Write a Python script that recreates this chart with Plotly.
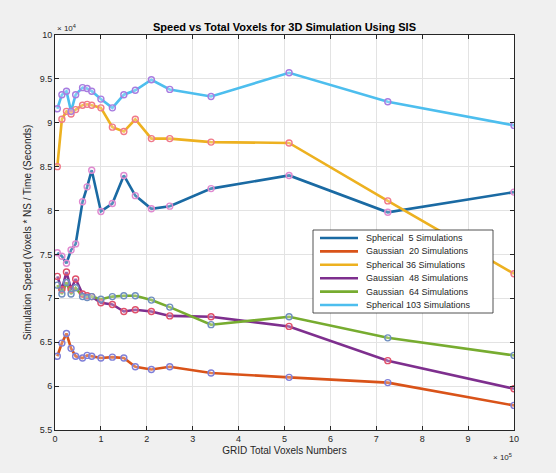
import plotly.graph_objects as go

# Grid sizes (x 10^5 voxels) shared by all runs
voxels = [0.05, 0.15, 0.25, 0.35, 0.45, 0.6, 0.7, 0.8, 1.0, 1.25, 1.5, 1.75, 2.1, 2.5, 3.4, 5.1, 7.25, 10]

# Simulation speed (x 10^4 voxels * NS / s)
spherical_5 = [7.52, 7.48, 7.40, 7.55, 7.62, 8.10, 8.27, 8.46, 7.99, 8.08, 8.40, 8.17, 8.02, 8.05, 8.25, 8.40, 7.98, 8.21]
gaussian_20 = [6.34, 6.49, 6.60, 6.43, 6.34, 6.32, 6.35, 6.34, 6.32, 6.33, 6.32, 6.22, 6.19, 6.22, 6.15, 6.10, 6.04, 5.78]
spherical_36 = [8.50, 9.04, 9.13, 9.10, 9.15, 9.20, 9.21, 9.20, 9.17, 8.95, 8.90, 9.04, 8.82, 8.82, 8.78, 8.77, 8.11, 7.28]
gaussian_48 = [7.25, 7.10, 7.30, 7.10, 7.22, 7.05, 7.03, 7.02, 6.95, 6.93, 6.85, 6.87, 6.85, 6.80, 6.79, 6.68, 6.29, 5.97]
gaussian_64 = [7.15, 7.05, 7.18, 7.05, 7.12, 7.02, 7.01, 7.02, 6.99, 7.02, 7.03, 7.03, 6.98, 6.90, 6.70, 6.79, 6.55, 6.35]
spherical_103 = [9.16, 9.32, 9.36, 9.13, 9.32, 9.40, 9.39, 9.36, 9.27, 9.17, 9.32, 9.37, 9.49, 9.38, 9.30, 9.57, 9.24, 8.97]

names = ["Spherical  5 Simulations", "Gaussian  20 Simulations", "Spherical 36 Simulations",
         "Gaussian  48 Simulations", "Gaussian  64 Simulations", "Spherical 103 Simulations"]
series = [spherical_5, gaussian_20, spherical_36, gaussian_48, gaussian_64, spherical_103]
line_colors = ["#1a6aa3", "#d95319", "#edb120", "#7e2f8e", "#77ac30", "#4dbeee"]
marker_colors = ["#e08ad0", "#7f7fd8", "#f07a8a", "#e0506a", "#6f8fc0", "#a87ce0"]

x_ticks = list(range(0, 11))
y_ticks = [5.5, 6, 6.5, 7, 7.5, 8, 8.5, 9, 9.5, 10]
y_tick_text = ["5.5", "6", "6.5", "7", "7.5", "8", "8.5", "9", "9.5", "10"]

FONT = "Liberation Sans, Arial"
W, H = 556, 473
ML, MR, MT, MB = 55, 42, 35, 43
PW, PH = W - ML - MR, H - MT - MB


def px_to_paper(px, py):
    return (px - ML) / PW, (H - MB - py) / PH


fig = go.Figure()
for name, vals, lc in zip(names, series, line_colors):
    fig.add_trace(go.Scatter(x=voxels, y=vals, mode="lines", name=name, showlegend=False,
                             line=dict(color=lc, width=2.6)))
for vals, mc in zip(series, marker_colors):
    fig.add_trace(go.Scatter(x=voxels, y=vals, mode="markers", showlegend=False,
                             hoverinfo="skip",
                             marker=dict(symbol="circle", size=6,
                                         color="rgba(255,255,255,0.25)",
                                         line=dict(color=mc, width=1.4))))

axis_common = dict(showline=True, linecolor="#262626", linewidth=1, mirror="ticks",
                   ticks="inside", ticklen=4, tickcolor="#262626",
                   showgrid=True, gridcolor="#e3e3e3", gridwidth=1, zeroline=False,
                   tickfont=dict(family=FONT, size=9, color="#262626"))

fig.update_layout(
    width=W, height=H,
    paper_bgcolor="#f0f0f0", plot_bgcolor="#ffffff",
    margin=dict(l=ML, r=MR, t=MT, b=MB),
    title=dict(text="<b>Speed vs Total Voxels for 3D Simulation Using SIS</b>",
               x=(ML + W - MR) / 2 / W, xanchor="center", y=1 - 27 / H, yanchor="middle",
               font=dict(family=FONT, size=11, color="#000000")),
    xaxis=dict(range=[0, 10], tickvals=x_ticks, ticktext=[str(t) for t in x_ticks],
               title=dict(text="GRID Total Voxels Numbers", standoff=4,
                          font=dict(family=FONT, size=10, color="#262626")),
               **axis_common),
    yaxis=dict(range=[5.5, 10], tickvals=y_ticks, ticktext=y_tick_text,
               title=dict(text="Simulation Speed (Voxels * NS / Time (Seconds)", standoff=6,
                          font=dict(family=FONT, size=10, color="#262626")),
               **axis_common),
    showlegend=False,
)

# legend box drawn by hand for compact rows
x0, y0 = px_to_paper(313, 230)
x1, y1 = px_to_paper(493, 313)
fig.add_shape(type="rect", xref="paper", yref="paper", x0=x0, y0=y1, x1=x1, y1=y0,
              fillcolor="#ffffff", line=dict(color="#262626", width=0.8), layer="above")
for i, (name, lc) in enumerate(zip(names, line_colors)):
    row_y = 238 + i * 13.4
    lx0, ly = px_to_paper(320, row_y)
    lx1, _ = px_to_paper(358, row_y)
    fig.add_shape(type="line", xref="paper", yref="paper", x0=lx0, x1=lx1, y0=ly, y1=ly,
                  line=dict(color=lc, width=2.6), layer="above")
    tx, _ = px_to_paper(364, row_y)
    fig.add_annotation(text=name, xref="paper", yref="paper", x=tx, y=ly,
                       xanchor="left", yanchor="middle", showarrow=False,
                       font=dict(family=FONT, size=9, color="#262626"))

# exponent labels for each axis
fig.add_annotation(text="\u00d7 10<sup>4</sup>", xref="paper", yref="paper",
                   x=0, y=1, xanchor="left", yanchor="bottom", showarrow=False,
                   font=dict(family=FONT, size=8, color="#262626"))
fig.add_annotation(text="\u00d7 10<sup>5</sup>", xref="paper", yref="paper",
                   x=1, y=0, xanchor="right", yanchor="top", yshift=-20, showarrow=False,
                   font=dict(family=FONT, size=8, color="#262626"))

fig.write_html("out.html")
